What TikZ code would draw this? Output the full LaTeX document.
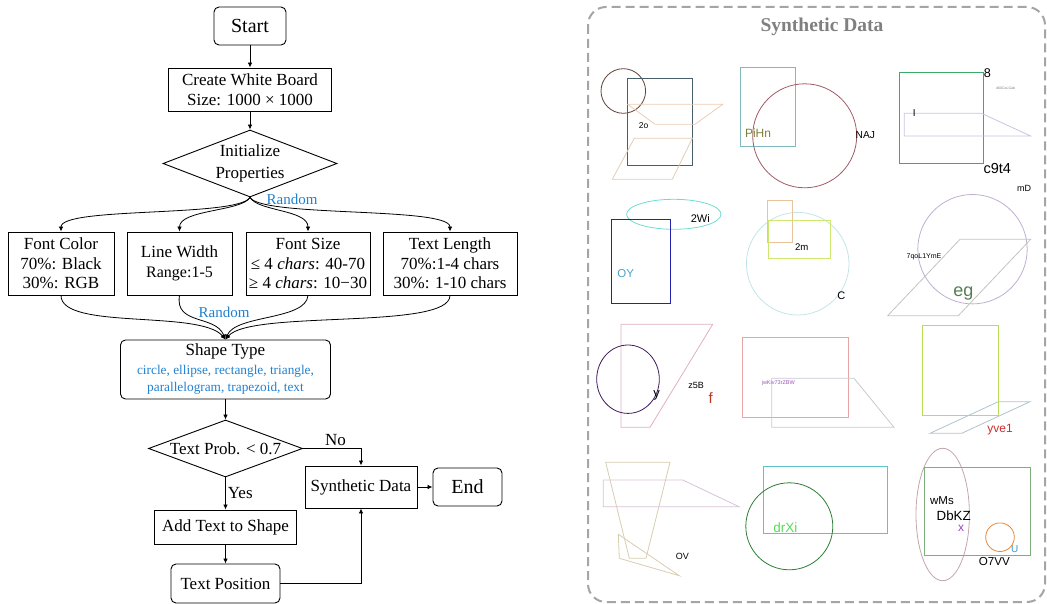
\documentclass[tikz,border=0pt]{standalone}
\usepackage{fontspec}
\setmainfont{Liberation Serif}
\newfontfamily\sansf{Liberation Sans}
\usetikzlibrary{shapes.geometric,arrows.meta}
\definecolor{rblue}{RGB}{31,128,208}
\definecolor{framegray}{RGB}{165,165,165}
\definecolor{titlegray}{RGB}{128,128,128}
\newcommand\fsz[2]{\fontsize{#1}{#2}\selectfont}
\newcommand\sfz[1]{\sansf\fontsize{#1}{#1}\selectfont}
\begin{document}
\begin{tikzpicture}[x=1pt,y=-1pt,
  fbox/.style={draw, line width=0.9pt, inner sep=0pt, align=center, font=\fsz{17}{19.5}},
  rbox/.style={fbox, rounded corners=5pt},
  fdia/.style={diamond, draw, line width=0.9pt, inner sep=0pt},
  arr/.style={line width=0.8pt, -{Latex[length=5pt,width=4.5pt]}},
  lab/.style={font=\fsz{17}{19.5}, inner sep=2pt},
  rlab/.style={font=\fsz{15}{18}, text=rblue, inner sep=0pt},
  sh/.style={line width=0.8pt},
  st/.style={inner sep=0pt}
]
\useasboundingbox (0,0) rectangle (1047,604);

% ---------------- flowchart ----------------
\node[rbox, minimum width=72pt, minimum height=38pt, font=\fsz{20}{24}] (start) at (250,26) {Start};
\node[fbox, minimum width=163pt, minimum height=43pt] (cwb) at (250,89.5) {Create White Board\\Size: 1000 × 1000};
\node[fdia, minimum width=174pt, minimum height=67pt,
  label={[font=\fsz{17}{22}, align=center]center:Initialize\\Properties}] (ip) at (250,163.5) {};
\node[rlab] (r1) at (292,199) {Random};

\node[fbox, minimum width=106pt, minimum height=63pt] (fc) at (61,263.5) {Font Color\\70\%: Black\\30\%: RGB};
\node[fbox, minimum width=105pt, minimum height=63pt] (lw) at (179.5,263.5) {Line Width\\{\fsz{16}{21}Range:1-5}};
\node[fbox, minimum width=124pt, minimum height=63pt] (fs) at (308,263.5) {Font Size\\≤ 4 \textit{chars}: 40-70\\≥ 4 \textit{chars}: 10−30};
\node[fbox, minimum width=134pt, minimum height=63pt] (tl) at (450,263.5) {Text Length\\70\%:1-4 chars\\30\%: 1-10 chars};

\node[rlab] (r2) at (224,312) {Random};

\node[rbox, minimum width=210pt, minimum height=59pt] (sht) at (225.5,369.5)
  {Shape Type\\[-1pt]{\color{rblue}\fsz{13.3}{17}circle, ellipse, rectangle, triangle,}\\[-2pt]{\color{rblue}\fsz{13.3}{17}parallelogram, trapezoid, text}};
\node[fdia, minimum width=154pt, minimum height=57pt,
  label={[font=\fsz{17}{19.5}]center:Text Prob. < 0.7}] (tp) at (225.5,448.5) {};
\node[fbox, minimum width=142pt, minimum height=34pt] (att) at (225.5,527) {Add Text to Shape};
\node[rbox, minimum width=109pt, minimum height=39pt] (tpos) at (225.5,583.5) {Text Position};
\node[fbox, minimum width=112pt, minimum height=42pt] (sd) at (361,487) {Synthetic Data};
\node[rbox, minimum width=69pt, minimum height=38pt, font=\fsz{20}{24}] (end) at (467.5,487) {End};

\draw[arr] (start) -- (cwb);
\draw[arr] (cwb) -- (ip);
\draw[arr] (ip.south) .. controls +(-12,20) and +(0,-25) .. (fc.north);
\draw[arr] (ip.south) .. controls +(-8,14) and +(0,-22) .. (lw.north);
\draw[arr] (ip.south) .. controls +(8,14) and +(0,-22) .. (fs.north);
\draw[arr] (ip.south) .. controls +(12,20) and +(0,-25) .. (tl.north);

\draw[arr] (fc.south) .. controls +(0,35) and +(-25,-30) .. (sht.north);
\draw[arr] (lw.south) .. controls +(-5,30) and +(-10,-25) .. (sht.north);
\draw[arr] (fs.south) .. controls +(-2,25) and +(10,-25) .. (sht.north);
\draw[arr] (tl.south) .. controls +(0,35) and +(25,-30) .. (sht.north);

\draw[arr] (sht) -- (tp);
\draw[arr] (tp.south) -- node[lab, right] (yes) {Yes} (att.north);
\draw[arr] (att) -- (tpos);
\draw[arr] (tp.east) -| node[lab, pos=0.28, above] (no) {No} (sd.north);
\draw[arr] (tpos.east) -| (sd.south);
\draw[arr] (sd) -- (end);

% ---------------- synthetic data panel ----------------
\draw[framegray, line width=2pt, dash pattern=on 9pt off 5pt, rounded corners=18pt] (588,7) rectangle (1045,602);
\node[font=\bfseries\fsz{19.5}{22}, text=titlegray] (sdt) at (822,27) {Synthetic Data};

% cell 1
\draw[sh, draw={rgb,255:red,95;green,65;blue,55}] (623.3,91) circle[radius=22.3pt];
\draw[sh, draw={rgb,255:red,70;green,95;blue,105}] (627.7,78.3) rectangle (692.7,165);
\draw[sh, draw={rgb,255:red,235;green,205;blue,180}] (627.7,104.3) -- (722.7,104.3) -- (695,124.3) -- (655,124.3) -- cycle;
\draw[sh, draw={rgb,255:red,225;green,205;blue,180}] (634.3,138.3) -- (692.3,138.3) -- (672.3,179.3) -- (612.3,179.3) -- cycle;
\node[st, font=\sfz{8.5}] (t1) at (643.7,125.7) {2o};

% cell 2
\draw[sh, draw={rgb,255:red,130;green,185;blue,190}] (740.3,67.7) rectangle (795.3,146);
\draw[sh, draw={rgb,255:red,160;green,90;blue,100}] (804.7,135.8) circle[radius=52pt];
\node[st, font=\sfz{12}, text={rgb,255:red,125;green,125;blue,60}] (t2) at (758,132.7) {PiHn};
\node[st, font=\sfz{10.2}] (t3) at (865.3,135) {NAJ};

% cell 3
\draw[sh, draw={rgb,255:red,60;green,170;blue,105}] (899,72.3) rectangle (983.3,163.3);
\draw[sh, draw={rgb,255:red,205;green,195;blue,225}] (904.3,113.3) -- (981.3,113.3) -- (1030.7,136) -- (904.3,136) -- cycle;
\node[st, font=\sfz{12.6}] (t4) at (987.3,73.3) {8};
\node[st, font=\sfz{3.5}, text=gray] (t5) at (1005.7,88.3) {d00CaLGab};
\node[st, font=\sfz{10}] (t6) at (914.3,113.3) {I};
\node[st, font=\sfz{14.5}] (t7) at (997.3,169) {c9t4};
\node[st, font=\sfz{9}] (t8) at (1024,188.3) {mD};

% cell 4
\draw[sh, draw={rgb,255:red,110;green,220;blue,210}] (673.8,214.3) ellipse[x radius=47.2pt, y radius=15pt];
\draw[sh, draw={rgb,255:red,35;green,35;blue,175}] (611.7,219.3) rectangle (670.7,303.3);
\node[st, font=\sfz{11}] (t9) at (700.3,219) {2Wi};
\node[st, font=\sfz{11.5}, text={rgb,255:red,75;green,160;blue,200}] (t10) at (625.7,273.7) {OY};

% cell 5
\draw[sh, draw={rgb,255:red,195;green,228;blue,232}] (797.7,263.7) circle[radius=51.3pt];
\draw[sh, draw={rgb,255:red,235;green,195;blue,155}] (767.7,200) rectangle (792.7,242.3);
\draw[sh, draw={rgb,255:red,205;green,232;blue,110}] (768.3,220.7) rectangle (830.7,258.3);
\node[st, font=\sfz{9.6}] (t11) at (801.7,246.7) {2m};
\node[st, font=\sfz{11}] (t12) at (841.3,295.7) {C};

% cell 6
\draw[sh, draw={rgb,255:red,190;green,175;blue,210}] (972.5,249.2) circle[radius=54.7pt];
\draw[sh, draw={rgb,255:red,195;green,195;blue,195}] (960,239.3) -- (1030.7,239.3) -- (958.3,315.7) -- (887.7,315.7) -- cycle;
\node[st, font=\sfz{7}] (t13) at (924,256.7) {7qoL1YmE};
\node[st, font=\sfz{18}, text={rgb,255:red,85;green,125;blue,85}] (t14) at (963.3,293.3) {eg};

% cell 7
\draw[sh, draw={rgb,255:red,225;green,175;blue,195}] (621,324.3) -- (712.7,324.3) -- (650,427.3) -- (621,427.3) -- cycle;
\draw[sh, draw={rgb,255:red,65;green,25;blue,95}] (628,379.2) ellipse[x radius=31.3pt, y radius=34.2pt];
\node[st, font=\sfz{13}] (t15) at (656.7,395) {y};
\node[st, font=\sfz{9}] (t16) at (696,385) {z5B};
\node[st, font=\sfz{15}, text={rgb,255:red,190;green,55;blue,35}] (t17) at (710.7,398.3) {f};

% cell 8
\draw[sh, draw={rgb,255:red,232;green,165;blue,165}] (742.3,337.3) rectangle (848.3,417);
\draw[sh, draw={rgb,255:red,200;green,200;blue,210}] (771.7,378.3) -- (854,378.3) -- (894,427.3) -- (771.7,427.3) -- cycle;
\node[st, font=\sfz{5.5}, text={rgb,255:red,155;green,85;blue,185}] (t18) at (778.3,383.3) {jwKiv73rZBW};

% cell 9
\draw[sh, draw={rgb,255:red,185;green,222;blue,85}] (922.3,325) rectangle (998.3,415);
\draw[sh, draw={rgb,255:red,175;green,195;blue,205}] (998.3,401.7) -- (1030,401.7) -- (961.7,433.3) -- (930,433.3) -- cycle;
\node[st, font=\sfz{12}, text={rgb,255:red,205;green,45;blue,45}] (t19) at (1000,429.3) {yve1};

% cell 10
\draw[sh, draw={rgb,255:red,215;green,205;blue,175}] (605.7,462.3) -- (670,462.3) -- (646,558.3) -- (629.3,558.3) -- cycle;
\draw[sh, draw={rgb,255:red,215;green,195;blue,215}] (603.3,480) -- (682.7,480) -- (739,506.7) -- (603.3,506.7) -- cycle;
\draw[sh, draw={rgb,255:red,215;green,205;blue,175}] (618.3,534.3) -- (619.3,558.3) -- (679.3,575.7) -- cycle;
\node[st, font=\sfz{9}] (t20) at (682.3,556.7) {OV};

% cell 11
\draw[sh, draw={rgb,255:red,95;green,195;blue,205}] (763.3,466.7) rectangle (887.3,533.3);
\draw[sh, draw={rgb,255:red,45;green,125;blue,55}] (789.3,526.3) circle[radius=43.5pt];
\node[st, font=\sfz{13.5}, text={rgb,255:red,85;green,220;blue,85}] (t21) at (785.3,527.7) {drXi};

% cell 12
\draw[sh, draw={rgb,255:red,195;green,165;blue,175}] (942.7,514.5) ellipse[x radius=26.7pt, y radius=66.2pt];
\draw[sh, draw={rgb,255:red,125;green,175;blue,125}] (924.3,467.7) rectangle (1030.7,555.7);
\draw[sh, draw={rgb,255:red,232;green,135;blue,55}] (1000,537.2) circle[radius=14.3pt];
\node[st, font=\sfz{11.5}] (t22) at (942,501) {wMs};
\node[st, font=\sfz{13.3}, text depth=0pt] (t23) at (953.7,515.7) {DbKZ};
\node[st, font=\sfz{12}, text={rgb,255:red,155;green,65;blue,195}] (t24) at (961,528.5) {x};
\node[st, font=\sfz{10}, text={rgb,255:red,55;green,155;blue,205}] (t25) at (1014.7,549) {U};
\node[st, font=\sfz{11.6}] (t26) at (994.3,561.7) {O7VV};
\end{tikzpicture}
\end{document}
